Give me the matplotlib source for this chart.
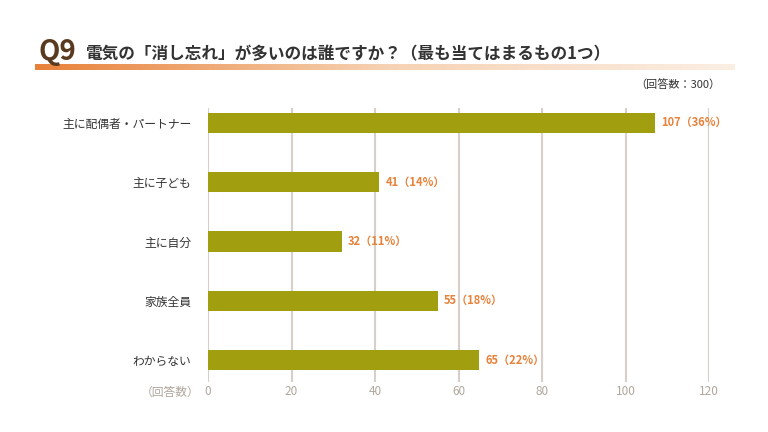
import numpy as np
import matplotlib.pyplot as plt

plt.rcParams['font.family'] = ['Noto Sans CJK JP', 'DejaVu Sans']

categories = ["主に配偶者・パートナー", "主に子ども", "主に自分", "家族全員", "わからない"]
counts = [107, 41, 32, 55, 65]
percents = [36, 14, 11, 18, 22]

fig = plt.figure(figsize=(7.68, 4.32), dpi=100)

# title band with gradient
band = fig.add_axes([35 / 768, 1 - 70 / 432, 700 / 768, 6 / 432])
grad = np.linspace(0, 1, 256).reshape(1, -1)
from matplotlib.colors import LinearSegmentedColormap
cmap = LinearSegmentedColormap.from_list("b", ["#e8823a", "#f6d2b4", "#fbeee3"])
band.imshow(grad, aspect="auto", cmap=cmap)
band.axis("off")

fig.text(38 / 768, 1 - 52 / 432, "Q9", fontsize=20, color="#5a3a1e", fontweight="bold",
         va="center", ha="left")
fig.text(85 / 768, 1 - 54 / 432, "電気の「消し忘れ」が多いのは誰ですか？（最も当てはまるもの1つ）",
         fontsize=12, color="#333333", fontweight="bold", va="center", ha="left")
fig.text(720 / 768, 1 - 84 / 432, "（回答数：300）", fontsize=8, color="#333333",
         ha="right", va="center")

ax = fig.add_axes([208 / 768, 1 - 382 / 432, 501 / 768, 274 / 432])
y = np.arange(len(categories))
ax.barh(y, counts, height=0.34, color="#a19e10", zorder=3)
for yi, c, p in zip(y, counts, percents):
    ax.text(c + 1.5, yi, f"{c}（{p}%）", color="#e8823a", fontsize=8,
            fontweight="bold", va="center", ha="left")

ax.set_xlim(0, 120)
ax.set_ylim(4.37, -0.25)
ax.set_xticks(range(0, 121, 20))
ax.grid(axis="x", color="#d8d0c8", linewidth=1.5, zorder=0)
ax.set_yticks(y)
ax.set_yticklabels(categories, fontsize=8.5, color="#333333")
for s in ax.spines.values():
    s.set_visible(False)
ax.tick_params(axis="both", length=0)
ax.tick_params(axis="x", colors="#b0a69c", labelsize=8.5, pad=2)
ax.tick_params(axis="y", pad=12)
ax.text(-2, 4.55, "（回答数）", fontsize=8.5, color="#b0a69c", ha="right", va="center",
        transform=ax.transData, clip_on=False)

fig.savefig("out.png", dpi=100)
